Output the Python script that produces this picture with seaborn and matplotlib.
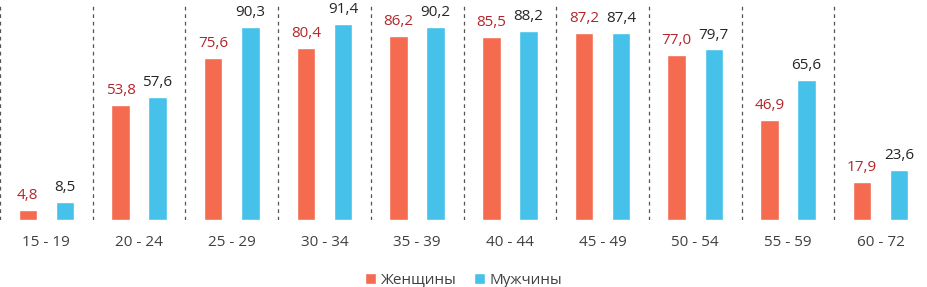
import matplotlib
matplotlib.use("Agg")
import matplotlib.pyplot as plt
import seaborn as sns
import pandas as pd

categories = ["15 - 19", "20 - 24", "25 - 29", "30 - 34", "35 - 39",
              "40 - 44", "45 - 49", "50 - 54", "55 - 59", "60 - 72"]
women = [4.8, 53.8, 75.6, 80.4, 86.2, 85.5, 87.2, 77.0, 46.9, 17.9]
men = [8.5, 57.6, 90.3, 91.4, 90.2, 88.2, 87.4, 79.7, 65.6, 23.6]
series = ["Женщины", "Мужчины"]
colors = ["#F46B50", "#45C1EA"]
label_colors = ["#B3262B", "#262626"]

df = pd.DataFrame({
    "cat": categories * 2,
    "val": women + men,
    "sex": [series[0]] * len(categories) + [series[1]] * len(categories),
})

sns.set_style("white")
plt.rcParams["font.family"] = ["Open Sans", "DejaVu Sans"]

fig = plt.figure(figsize=(9.27, 2.87), dpi=100)
ax = fig.add_axes([0.0, 0.233, 1.0, 0.746])
sns.barplot(data=df, x="cat", y="val", hue="sex", palette=colors,
            width=0.8, gap=0.5, ax=ax, legend=True, saturation=1)

for cont, lc in zip(ax.containers, label_colors):
    labels = [f"{v:.1f}".replace(".", ",") for v in cont.datavalues]
    ax.bar_label(cont, labels=labels, padding=5, color=lc, fontsize=11)

ax.set_xlim(-0.5, len(categories) - 0.5)
ax.set_ylim(0, 100)
for i in range(len(categories)):
    ax.axvline(i - 0.5, color="#555555", linestyle=(0, (3, 3)), linewidth=0.9)
ax.set_xlabel("")
ax.set_ylabel("")
ax.set_yticks([])
ax.tick_params(axis="x", length=0, labelsize=11, labelcolor="#404040", pad=11)
for s in ax.spines.values():
    s.set_visible(False)

ax.legend(loc="center", bbox_to_anchor=(0.5, -0.28), ncol=2, frameon=False,
          fontsize=11, handlelength=0.7, handleheight=0.7, handletextpad=0.3,
          columnspacing=1.2, labelcolor="#404040")

fig.savefig("out.png", dpi=100)
